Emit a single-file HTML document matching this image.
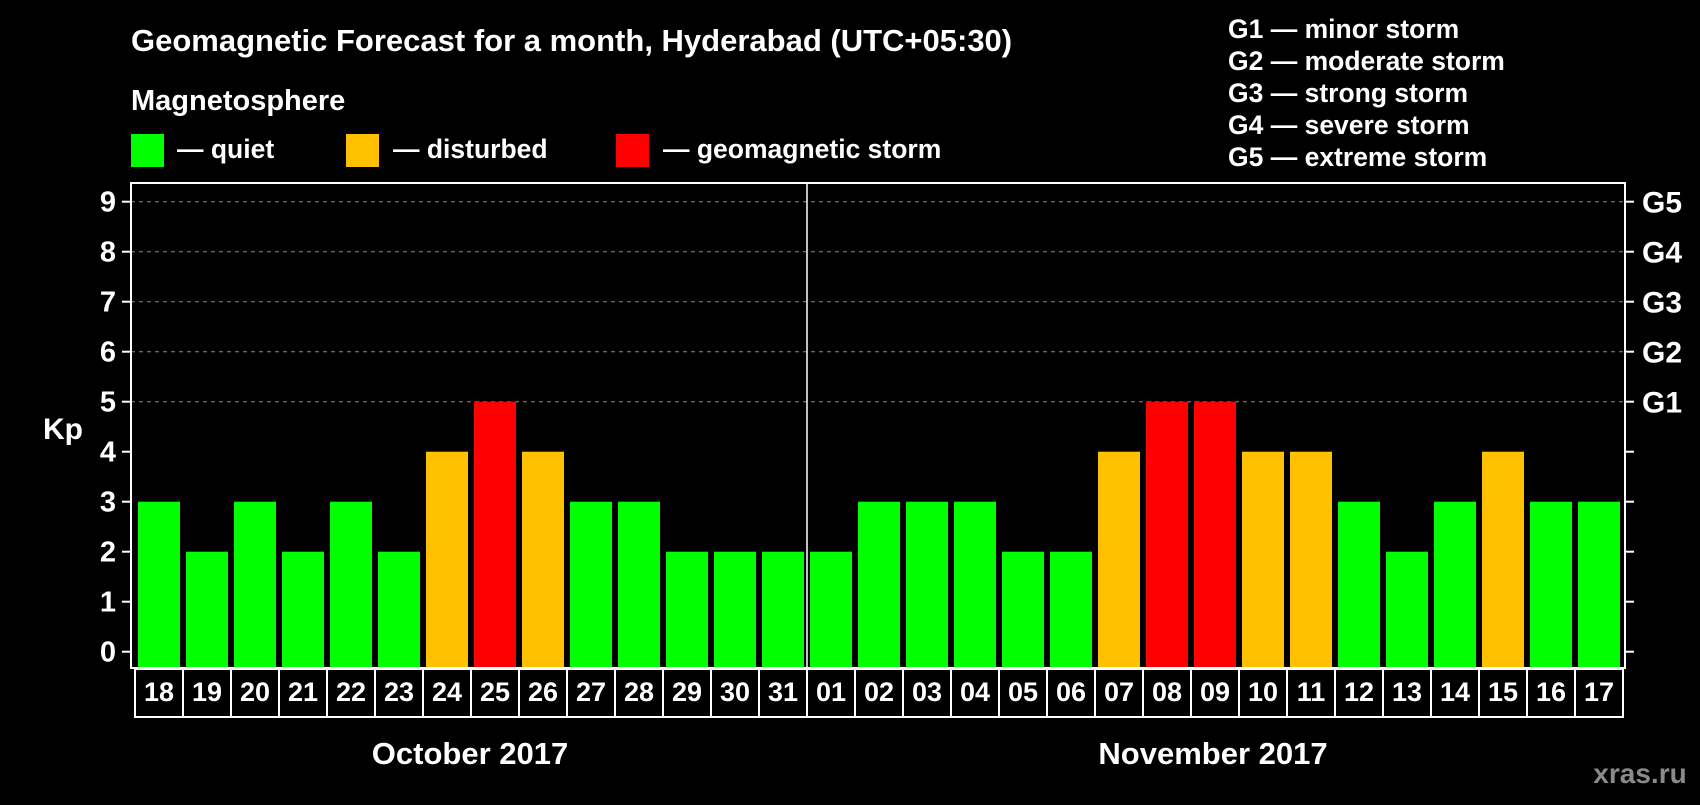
<!DOCTYPE html>
<html><head><meta charset="utf-8"><style>
body{margin:0;background:#000;}
svg text{font-family:"Liberation Sans",Arial,sans-serif;font-weight:bold;fill:#fff;}
</style></head><body>
<svg width="1700" height="800" xmlns="http://www.w3.org/2000/svg">
<rect width="1700" height="800" fill="#000"/>
<text x="131" y="51" font-size="31">Geomagnetic Forecast for a month, Hyderabad (UTC+05:30)</text>
<text x="131" y="110" font-size="29">Magnetosphere</text>
<g><rect x="131" y="134" width="33" height="33" fill="#00ff00"/><text x="177" y="158" font-size="26.5">— quiet</text></g>
<g><rect x="346" y="134" width="33" height="33" fill="#ffc000"/><text x="393" y="158" font-size="26.5">— disturbed</text></g>
<g><rect x="616" y="134" width="33" height="33" fill="#ff0000"/><text x="663" y="158" font-size="26.5">— geomagnetic storm</text></g>
<g font-size="26.5">
<text x="1228" y="38">G1 — minor storm</text>
<text x="1228" y="70">G2 — moderate storm</text>
<text x="1228" y="102">G3 — strong storm</text>
<text x="1228" y="134">G4 — severe storm</text>
<text x="1228" y="166">G5 — extreme storm</text>
</g>
<text x="43" y="439" font-size="30">Kp</text>
<g id="grid"></g>
<g id="bars"></g>
<rect x="131" y="183" width="1494" height="485" fill="none" stroke="#fff" stroke-width="2"/>
<line x1="807" y1="183" x2="807" y2="668" stroke="#fff" stroke-width="1.5"/>
<g id="axes"></g>
<text x="470" y="764" font-size="31" text-anchor="middle">October 2017</text>
<text x="1213" y="764" font-size="31" text-anchor="middle">November 2017</text>
<text x="1640" y="783" font-size="28" text-anchor="middle" style="fill:#8a8a8a">xras.ru</text>
</svg>
<script>
const days=["18","19","20","21","22","23","24","25","26","27","28","29","30","31","01","02","03","04","05","06","07","08","09","10","11","12","13","14","15","16","17"];
const kp=[3,2,3,2,3,2,4,5,4,3,3,2,2,2,2,3,3,3,2,2,4,5,5,4,4,3,2,3,4,3,3];
const yTicks=[0,1,2,3,4,5,6,7,8,9];
const gLabels=["G1","G2","G3","G4","G5"];
const NS="http://www.w3.org/2000/svg";
const y=v=>651.7-v*50;
const x=i=>138+i*48;
function mk(t,a,p){const e=document.createElementNS(NS,t);for(const k in a)e.setAttribute(k,a[k]);p.appendChild(e);return e;}
const grid=document.getElementById('grid'),bars=document.getElementById('bars'),axes=document.getElementById('axes');
yTicks.forEach(v=>{
 if(v>=5){const l=mk('line',{x1:131,x2:1625,y1:y(v),y2:y(v),stroke:'#888','stroke-dasharray':'4,4','stroke-width':1},grid);
 
 }
 const t1=mk('line',{x1:122,x2:131,y1:y(v),y2:y(v),stroke:'#fff','stroke-width':2},axes);
 
 
 const t2=mk('line',{x1:1625,x2:1634,y1:y(v),y2:y(v),stroke:'#fff','stroke-width':2},axes);
 
 
 const lb=mk('text',{x:116,y:y(v)+10,'font-size':29,'text-anchor':'end'},axes);lb.textContent=v;
 
 
});
gLabels.forEach((g,i)=>{
 const lb=mk('text',{x:1642,y:y(5+i)+11,'font-size':30},axes);lb.textContent=g;
 
 
});
kp.forEach((v,i)=>{
 const c=v>=5?'#ff0000':v>=4?'#ffc000':'#00ff00';
 const r=mk('rect',{x:x(i),y:y(v),width:42,height:668-y(v),fill:c},bars);
 
 
 const b=mk('rect',{x:x(i)-3,y:669,width:48,height:48,fill:'none',stroke:'#fff','stroke-width':2},axes);
 
 
 const t=mk('text',{x:x(i)+21,y:701,'font-size':27,'text-anchor':'middle'},axes);t.textContent=days[i];
 
 
});
</script>
</body></html>
